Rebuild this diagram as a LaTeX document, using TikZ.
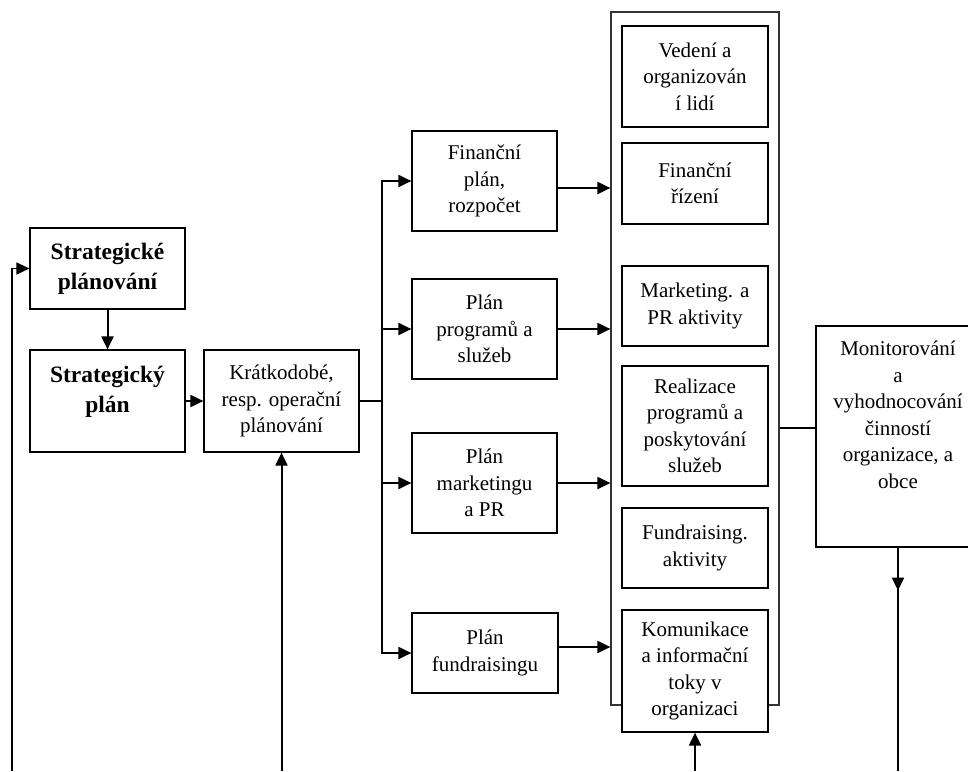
\documentclass[tikz,border=0pt]{standalone}
\usepackage{fontspec}
\setmainfont{Liberation Serif}
\usetikzlibrary{arrows.meta,positioning}

\begin{document}
\begin{tikzpicture}[x=1pt,y=-1pt,->,>={Triangle[length=13pt,width=12pt]},line width=2pt,
	box/.style={draw=black,line width=1.2pt,fill=white,align=center,inner sep=0pt,font=\fontsize{21}{26.5}\selectfont},
	boldbox/.style={box,font=\fontsize{23.5}{30}\selectfont\bfseries},
	toptext/.style={anchor=north,inner sep=0pt,align=center},
	frame/.style={draw=black!80,line width=1.2pt}]
	\useasboundingbox (0,0) rectangle (968,771);

	% ramec kolem cinnosti
	\node[frame,minimum width=168,minimum height=693]	(cont)	at (695,358.5)	{};

	\node[boldbox,minimum width=155,minimum height=81]	(strat)		at (107.5,268.5)	{Strategické\\plánování};
	\node[boldbox,minimum width=155,minimum height=102,
		label={[toptext,yshift=-16pt,font=\fontsize{23.5}{30}\selectfont\bfseries]north:Strategický\\plán}]
														(splan)		at (107.5,401)		{};
	\node[box,minimum width=155,minimum height=102]		(kratko)	at (281.5,401)		{Krátkodobé,\\resp. operační\\plánování};

	\node[box,minimum width=145,minimum height=100]		(fplan)		at (484.5,181)		{Finanční\\plán,\\rozpočet};
	\node[box,minimum width=145,minimum height=100]		(pprog)		at (484.5,329)		{Plán\\programů a\\služeb};
	\node[box,minimum width=145,minimum height=100]		(pmark)		at (484.5,483)		{Plán\\marketingu\\a PR};
	\node[box,minimum width=146,minimum height=80]		(pfund)		at (485,653)		{Plán\\fundraisingu};

	\node[box,minimum width=146,minimum height=101]		(vedeni)	at (695,76.5)		{Vedení a\\organizován\\í lidí};
	\node[box,minimum width=146,minimum height=81]		(frizeni)	at (695,183.5)		{Finanční\\řízení};
	\node[box,minimum width=146,minimum height=80]		(market)	at (695,306)		{Marketing. a\\PR aktivity};
	\node[box,minimum width=146,minimum height=120]		(realiz)	at (695,426)		{Realizace\\programů a\\poskytování\\služeb};
	\node[box,minimum width=146,minimum height=80]		(fundr)		at (695,548)		{Fundraising.\\aktivity};
	\node[box,minimum width=146,minimum height=122]		(komun)		at (695,671)		{Komunikace\\a informační\\toky v\\organizaci};

	\node[box,minimum width=164,minimum height=221,
		label={[toptext,yshift=-14.5pt,font=\fontsize{21}{26.5}\selectfont]north:Monitorování\\a\\vyhodnocování\\činností\\organizace, a\\obce}]
														(monit)		at (898,436.5)		{};

	\coordinate (dole)	at (0,771);
	\coordinate (zpet)	at (12,771);
	\coordinate (bus)	at (382,402);

	\path
		(strat)	edge	(splan)
		(splan)	edge	(kratko)
	;
	\draw[-] (kratko.east) -- (kratko.east -| bus);
	\draw[->] (bus) |- (fplan);
	\draw[->] (bus) |- (pprog);
	\draw[->] (bus) |- (pmark);
	\draw[->] (bus) |- (pfund);

	\draw[->] ([yshift=-7pt]fplan.east) -- ([yshift=-7pt]fplan.east -| cont.west);
	\draw[->] (pprog.east) -- (pprog.east -| cont.west);
	\draw[->] (pmark.east) -- (pmark.east -| cont.west);
	\draw[->] ([yshift=6pt]pfund.east) -- ([yshift=6pt]pfund.east -| cont.west);

	\draw[-,line width=1.2pt] ([yshift=8.5pt]monit.west) -- ([yshift=8.5pt]monit.west -| cont.east);
	\draw[-] (monit.south) -- (monit.south |- dole);
	\draw[->] (monit.south) -- ++(0,43);

	\draw[->] (komun.south |- dole) -- (komun.south);
	\draw[->] (kratko.south |- dole) -- (kratko.south);
	\draw[->,line width=1.5pt] (zpet) |- (strat);
\end{tikzpicture}
\end{document}
